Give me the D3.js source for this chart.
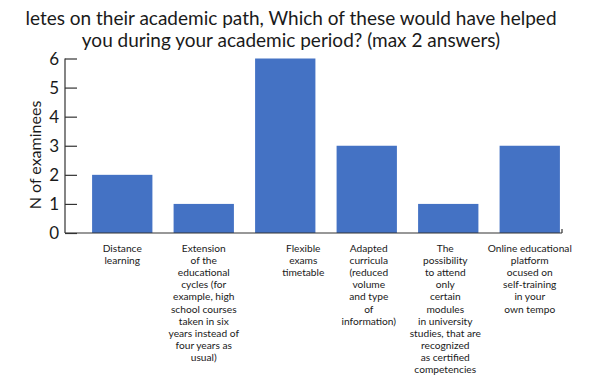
<!DOCTYPE html>
<html>
<head>
<meta charset="utf-8">
<script src="https://cdn.jsdelivr.net/npm/d3@7"></script>
<style>
  body { margin: 0; background: #fff; }
  text { font-family: Lato, "Open Sans", sans-serif; fill: #1a1a1a; }
</style>
</head>
<body>
<svg width="589" height="378"></svg>
<script>
var titleLines = [
  "letes on their academic path, Which of these would have helped",
  "you during your academic period? (max 2 answers)"
];
var categories = [
  ["Distance", "learning"],
  ["Extension", "of the", "educational", "cycles (for", "example, high", "school courses", "taken in six", "years instead of", "four years as", "usual)"],
  ["Flexible", "exams", "timetable"],
  ["Adapted", "curricula", "(reduced", "volume", "and type", "of", "information)"],
  ["The", "possibility", "to attend", "only", "certain", "modules", "in university", "studies, that are", "recognized", "as certified", "competencies"],
  ["Online educational", "platform", "ocused on", "self-training", "in your", "own tempo"]
];
var values = [2, 1, 6, 3, 1, 3];
var yTicks = [0, 1, 2, 3, 4, 5, 6];
var yTitle = "N of examinees";

var svg = d3.select("svg");
var axisLeft = 65, axisRight = 562, y0 = 233, y6 = 58.5;
// the source nudges a couple of the wrapped labels off their bar centre
var labelNudge = [0, 0, 18, 2, -3, 0];

var x = d3.scaleBand()
    .domain(d3.range(values.length))
    .range([81.5, 570.5])
    .paddingInner(0.26)
    .paddingOuter(0.13);

var y = d3.scaleLinear()
    .domain([0, 6])
    .range([y0, y6]);

// title
svg.append("g").selectAll("text")
    .data(titleLines)
    .join("text")
    .attr("x", 291)
    .attr("y", (d, i) => 25 + i * 22)
    .attr("text-anchor", "middle")
    .attr("font-size", 19)
    .text(d => d);

// bars
svg.append("g").selectAll("rect")
    .data(values)
    .join("rect")
    .attr("x", (d, i) => x(i))
    .attr("y", d => y(d))
    .attr("width", x.bandwidth())
    .attr("height", d => y(0) - y(d))
    .attr("fill", "#4472c4");

// y axis
var yAxis = svg.append("g")
    .attr("transform", "translate(" + axisLeft + ",0)")
    .call(d3.axisRight(y).tickValues(yTicks).tickSize(12).tickFormat(""));
yAxis.select(".domain").remove();
yAxis.selectAll(".tick line").attr("stroke", "#333").attr("stroke-width", 1.2);
svg.append("line")
    .attr("x1", axisLeft).attr("x2", axisLeft)
    .attr("y1", y(6)).attr("y2", y(0))
    .attr("stroke", "#333").attr("stroke-width", 1.2);

svg.append("g").selectAll("text")
    .data(yTicks)
    .join("text")
    .attr("x", 59)
    .attr("y", d => y(d) + 6)
    .attr("text-anchor", "end")
    .attr("font-size", 17)
    .text(d => d);

svg.append("text")
    .attr("transform", "translate(41,155) rotate(-90)")
    .attr("text-anchor", "middle")
    .attr("font-size", 16)
    .text(yTitle);

// x axis
svg.append("line")
    .attr("x1", axisLeft).attr("x2", axisRight)
    .attr("y1", y(0)).attr("y2", y(0))
    .attr("stroke", "#333").attr("stroke-width", 1.2);
svg.append("line")
    .attr("x1", axisRight).attr("x2", axisRight)
    .attr("y1", y(0)).attr("y2", y(0) - 4)
    .attr("stroke", "#333").attr("stroke-width", 1.2);

// category labels
var lab = svg.append("g").selectAll("text")
    .data(categories)
    .join("text")
    .attr("text-anchor", "middle")
    .attr("font-size", 10.2)
    .attr("transform", (d, i) => "translate(" + (x(i) + x.bandwidth() / 2 + labelNudge[i]) + ",252)");
lab.selectAll("tspan")
    .data(d => d)
    .join("tspan")
    .attr("x", 0)
    .attr("y", (d, i) => i * 12.1)
    .text(d => d);
</script>
</body>
</html>
